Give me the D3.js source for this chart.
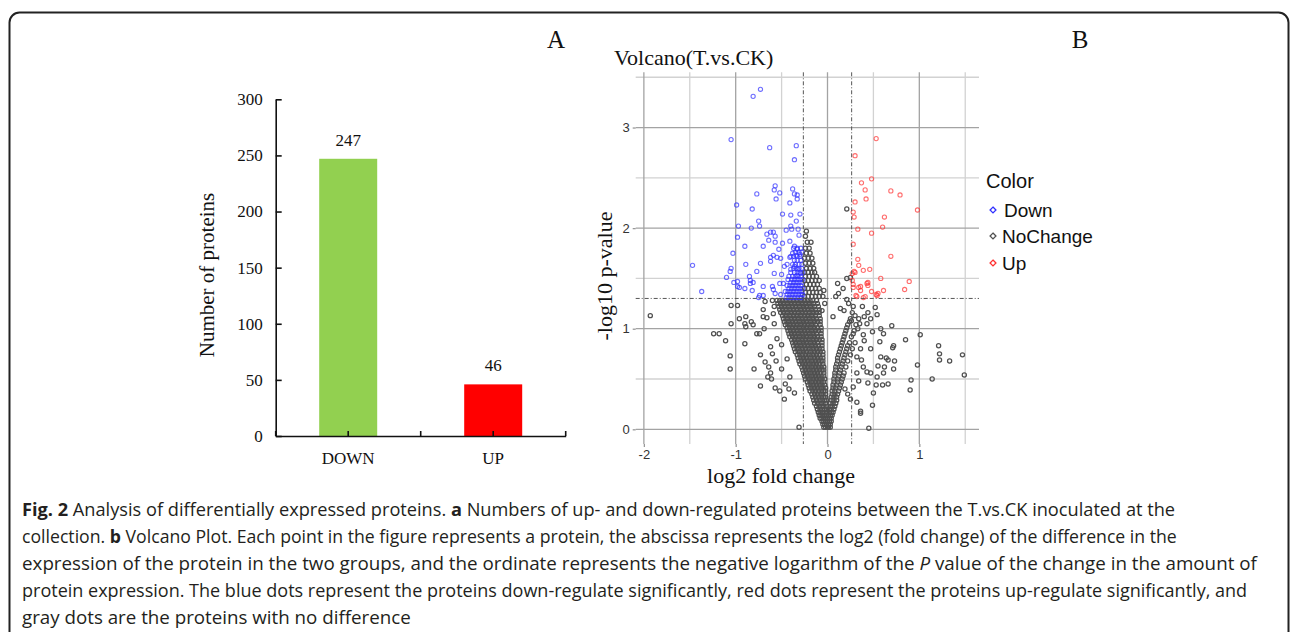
<!DOCTYPE html>
<html lang="en">
<head>
    <meta charset="UTF-8">
    <title>Fig. 2 Analysis of differentially expressed proteins</title>
    <script src="https://d3js.org/d3.v7.min.js"></script>
    <style>
        body { margin: 0; background: #fff; }
        svg { display: block; }
        .serif { font-family: "Liberation Serif", "Times New Roman", serif; fill: #111; }
        .sans { font-family: "Liberation Sans", Arial, sans-serif; }
        .caption { font-family: "Open Sans", "Noto Sans", sans-serif; fill: #231f20; }
    </style>
</head>
<body>
    <svg width="1290" height="632"></svg>
    <script>
        // ---- panel A : bar chart ----
        const barCategories = ["DOWN", "UP"];
        const barValues = [247, 46];
        const barColors = ["#92D050", "#FF0000"];
        const barTicks = [0, 50, 100, 150, 200, 250, 300];

        // ---- panel B : volcano plot, values in hundredths [log2FC, -log10 p] ----
        const volcanoXTicks = [-2, -1, 0, 1];
        const volcanoYTicks = [0, 1, 2, 3];
        const fcCut = 0.263;   // log2(1.2)
        const pCut = 1.301;    // -log10(0.05)

        const downPoints = [
            [-73,338],[-81,331],[-105,288],[-63,280],[-34,282],[-36,268],[-57,242],[-58,238],[-77,234],[-52,235],
            [-38,239],[-36,234],[-33,233],[-33,229],[-56,229],[-41,225],[-99,223],[-82,219],[-49,214],[-30,214],
            [-40,213],[-34,207],[-75,207],[-74,202],[-97,202],[-40,202],[-83,200],[-39,199],[-32,199],[-62,196],
            [-59,196],[-66,194],[-45,198],[-98,191],[-57,192],[-31,193],[-64,188],[-41,187],[-57,186],[-49,185],
            [-90,182],[-70,182],[-103,175],[-53,179],[-36,182],[-33,179],[-59,173],[-55,171],[-62,171],[-51,170],
            [-38,175],[-41,171],[-34,173],[-30,174],[-73,165],[-62,167],[-89,164],[-105,160],[-106,157],[-147,163],
            [-110,151],[-77,157],[-47,162],[-40,159],[-36,162],[-32,159],[-58,155],[-50,154],[-42,152],[-33,153],
            [-29,155],[-85,152],[-102,146],[-98,147],[-98,142],[-96,141],[-90,140],[-84,145],[-84,148],[-81,146],
            [-82,138],[-137,137],[-70,142],[-60,142],[-59,139],[-74,133],[-70,133],[-75,131],[-57,135],[-51,134],
            [-52,145],[-48,145]
        ];
        // dense blue group just above the p cut-off: [y, [x, x, ...]]
        const downCluster = [
            [131,[-45,-42,-39,-36,-33,-30,-28]],
            [134,[-44,-41,-38,-35,-32,-29,-27]],
            [137,[-46,-43,-40,-37,-34,-31,-28]],
            [140,[-42,-39,-36,-33,-30,-27]],
            [143,[-44,-41,-38,-35,-32,-29]],
            [146,[-40,-37,-34,-31,-28]],
            [149,[-43,-39,-36,-33,-30,-27]],
            [152,[-38,-35,-32,-29]],
            [156,[-40,-36,-33,-30,-27]],
            [160,[-37,-34,-31,-28]],
            [164,[-44,-38,-35,-31,-28]],
            [168,[-36,-33,-29]],
            [172,[-40,-37,-33,-30]],
            [176,[-35,-31,-28]],
            [180,[-37,-33,-29]]
        ];
        const upPoints = [
            [53,289],[30,272],[37,245],[48,249],[41,238],[69,237],[79,233],[42,229],[30,226],[98,218],
            [28,216],[29,211],[62,211],[60,201],[33,199],[48,195],[28,184],[69,172],[33,169],[34,163],
            [29,157],[30,156],[39,158],[46,159],[58,150],[27,148],[44,146],[44,143],[28,144],[89,147],
            [34,141],[36,138],[48,137],[61,138],[84,139],[32,132],[39,131],[41,132],[53,134],[55,135],
            [28,141],[36,142],[31,133],[43,145],[27,155],[54,133]
        ];
        const grayPoints = [
            [-193,113],[-124,95],[-118,95],[-111,88],[-106,73],[-106,60],[-105,105],[-105,123],[-98,123],[-96,110],
            [-90,105],[-89,112],[-89,102],[-90,85],[-83,107],[-81,104],[-80,60],[-77,95],[-74,95],[-73,43],
            [-73,74],[-70,119],[-70,112],[-69,100],[-68,127],[-66,111],[-68,67],[-65,52],[-62,56],[-57,41],
            [-52,38],[-61,50],[-64,62],[-60,75],[-31,2],[-55,90],[-58,105],[-62,82],[-56,68],[-59,115],
            [-47,30],[-58,122],[-60,128],[-50,60],[-46,45],[-42,40],[-44,70],[-50,84],[-41,52],[-36,36],
            [21,219],[11,145],[21,150],[25,151],[9,132],[-4,138],[21,129],[30,113],[44,116],[52,121],
            [54,114],[35,105],[43,105],[58,100],[70,103],[61,95],[49,97],[39,94],[101,94],[85,89],
            [57,87],[72,83],[71,81],[47,80],[121,83],[122,75],[122,69],[133,68],[147,74],[149,54],
            [114,50],[91,49],[90,39],[98,64],[58,72],[64,71],[66,69],[73,68],[62,62],[72,60],
            [61,56],[55,63],[60,44],[66,45],[53,44],[50,36],[49,24],[36,18],[36,16],[32,27],
            [45,1],[54,52],[47,56],[44,46],[43,57],[39,62],[37,69],[32,72],[32,56],[34,48],
            [28,42],[12,135],[17,140],[23,125],[18,118],[40,112],[47,110],[26,108],[33,100],[14,120],
            [6,112],[-6,118],[-3,125],[30,86],[36,80],[28,95],[40,88],[22,35],[25,30],[19,40]
        ];
        // dense grey "V": [y, [x, x, ...]]
        const grayCore = [
            [2,[-4,-2,0,1,3]],
            [5,[-5,-3,-1,1,3]],
            [8,[-6,-4,-2,0,2,4]],
            [11,[-8,-6,-4,-2,0,2,4]],
            [14,[-9,-7,-5,-3,-1,1,3,5]],
            [17,[-10,-8,-6,-4,-1,2,4,6]],
            [20,[-11,-8,-5,-3,-1,2,4,7]],
            [23,[-12,-9,-6,-4,-1,3,5,8]],
            [26,[-14,-11,-8,-5,-2,3,6,9]],
            [29,[-15,-12,-9,-6,-3,-1,4,7,10]],
            [32,[-16,-13,-10,-7,-4,-2,4,7,10]],
            [35,[-17,-14,-11,-8,-5,-2,5,8,11]],
            [38,[-19,-16,-13,-10,-7,-4,-2,5,8,12]],
            [41,[-20,-17,-14,-11,-8,-5,-2,6,9,13]],
            [44,[-21,-18,-15,-12,-9,-6,-3,6,10,14]],
            [47,[-22,-19,-16,-13,-10,-7,-4,7,11,15]],
            [50,[-24,-21,-18,-15,-12,-9,-6,-3,7,11,16]],
            [53,[-25,-22,-19,-16,-13,-10,-7,-4,8,12,17]],
            [56,[-26,-23,-20,-17,-14,-11,-8,-4,8,13,18]],
            [59,[-27,-24,-21,-18,-15,-12,-9,-6,-4,9,14]],
            [62,[-28,-25,-22,-19,-16,-13,-10,-7,-4,9,15,20]],
            [65,[-30,-27,-24,-21,-18,-15,-12,-9,-5,10,16]],
            [68,[-31,-28,-25,-22,-19,-16,-13,-10,-7,-5,11,17,22]],
            [71,[-32,-29,-26,-23,-20,-17,-14,-11,-8,-5,11,18]],
            [74,[-33,-30,-27,-24,-21,-18,-15,-12,-9,-5,12,19,25]],
            [77,[-35,-32,-29,-26,-23,-20,-17,-14,-11,-8,-5,13,20]],
            [80,[-36,-33,-30,-27,-24,-21,-18,-15,-12,-9,-6,14,21,27]],
            [83,[-37,-34,-31,-28,-25,-22,-19,-16,-13,-10,-6,15,22]],
            [86,[-38,-35,-32,-29,-26,-23,-20,-17,-14,-11,-6,16,24]],
            [89,[-39,-36,-33,-30,-27,-24,-21,-18,-15,-12,-9,-6,17]],
            [92,[-41,-38,-35,-32,-29,-26,-23,-20,-17,-14,-11,-7,18,26]],
            [95,[-42,-39,-36,-33,-30,-27,-24,-21,-18,-15,-12,-7,19]],
            [98,[-43,-40,-37,-34,-31,-28,-25,-22,-19,-16,-13,-10,-7,20,29]],
            [101,[-44,-41,-38,-35,-32,-29,-26,-23,-20,-17,-14,-11,-7,21]],
            [104,[-46,-43,-40,-37,-34,-31,-28,-25,-22,-19,-16,-13,-8,22,31]],
            [107,[-47,-44,-41,-38,-35,-32,-29,-26,-23,-20,-17,-14,-11,-8,24]],
            [110,[-48,-45,-42,-39,-36,-33,-30,-27,-24,-21,-18,-15,-12,-8,25,34]],
            [113,[-49,-46,-43,-40,-37,-34,-31,-28,-25,-22,-19,-16,-13,-9]],
            [116,[-51,-48,-45,-42,-39,-36,-33,-30,-27,-24,-21,-18,-15,-12,-9,27]],
            [119,[-52,-49,-46,-43,-40,-37,-34,-31,-28,-25,-22,-19,-16,-13,-9]],
            [122,[-53,-50,-47,-44,-41,-38,-35,-32,-29,-26,-23,-20,-17,-14,-10,28,38]],
            [125,[-54,-51,-48,-45,-42,-39,-36,-33,-30,-27,-24,-21,-18,-15,-11]],
            [128,[-55,-52,-49,-46,-43,-40,-37,-34,-31,-28,-25,-22,-19,-16,-12]],
            // grey tail above the p cut-off, inside the fold-change band
            [132,[-25,-21,-17,-13,-9,-5]],
            [136,[-24,-20,-16,-12,-8]],
            [140,[-25,-21,-17,-13,-9]],
            [144,[-23,-19,-15,-11]],
            [148,[-25,-21,-17,-13,-9]],
            [152,[-24,-20,-16,-12]],
            [156,[-25,-21,-17,-14]],
            [160,[-23,-19,-15]],
            [165,[-24,-20,-16]],
            [170,[-25,-21,-17]],
            [175,[-23,-19]],
            [180,[-24,-20]],
            [186,[-22,-18]],
            [192,[-24]],
            [197,[-23]]
        ];

        const legendItems = ["Down", "NoChange", "Up"];
        const pointColors = { Down: "#3030ff", NoChange: "#505050", Up: "#ff3030" };

        const captionLines = [
            [["Fig. 2", "b"], [" Analysis of differentially expressed proteins. ", ""], ["a", "b"], [" Numbers of up- and down-regulated proteins between the T.vs.CK inoculated at the", ""]],
            [["collection. ", ""], ["b", "b"], [" Volcano Plot. Each point in the figure represents a protein, the abscissa represents the log2 (fold change) of the difference in the", ""]],
            [["expression of the protein in the two groups, and the ordinate represents the negative logarithm of the ", ""], ["P", "i"], [" value of the change in the amount of", ""]],
            [["protein expression. The blue dots represent the proteins down-regulate significantly, red dots represent the proteins up-regulate significantly, and", ""]],
            [["gray dots are the proteins with no difference", ""]]
        ];
        const captionWidths = [1154, 1156, 1236, 1226, 389];

        const svg = d3.select("svg");

        // frame
        svg.append("rect")
            .attr("x", 9.5).attr("y", 12.5)
            .attr("width", 1279).attr("height", 700)
            .attr("rx", 10)
            .attr("fill", "none")
            .attr("stroke", "#222")
            .attr("stroke-width", 2);

        // ================= A =================
        const xBar = d3.scaleBand().domain(barCategories).range([275.7, 565.7])
            .paddingInner(0.6).paddingOuter(0.3);
        const yBar = d3.scaleLinear().domain([0, 300]).range([436, 99.3]);

        const gA = svg.append("g");

        gA.selectAll("rect.bar")
            .data(barValues)
            .enter().append("rect")
            .attr("class", "bar")
            .attr("x", (d, i) => xBar(barCategories[i]))
            .attr("y", d => yBar(d))
            .attr("width", xBar.bandwidth())
            .attr("height", d => yBar(0) - yBar(d))
            .attr("fill", (d, i) => barColors[i]);

        gA.selectAll("text.val")
            .data(barValues)
            .enter().append("text")
            .attr("class", "serif")
            .attr("x", (d, i) => xBar(barCategories[i]) + xBar.bandwidth() / 2)
            .attr("y", d => yBar(d) - 13)
            .attr("text-anchor", "middle")
            .style("font-size", "17px")
            .text(d => d);

        const yAxisA = gA.append("g")
            .attr("transform", "translate(275.7,0)")
            .call(d3.axisLeft(yBar).tickValues(barTicks).tickSizeInner(-6).tickSizeOuter(0).tickPadding(13));
        yAxisA.selectAll("text").attr("class", "serif").style("font-size", "17px").attr("fill", "#111");
        yAxisA.selectAll("line, path").attr("stroke", "#111").attr("stroke-width", 1.6);

        const xAxisA = gA.append("g")
            .attr("transform", "translate(0,436)")
            .call(d3.axisBottom(xBar).tickSize(0).tickPadding(16));
        xAxisA.select(".domain").attr("stroke", "#111").attr("stroke-width", 1.6);
        xAxisA.selectAll("text").attr("class", "serif").style("font-size", "17px").attr("fill", "#111");

        const step = xBar.step();
        const barTickPos = [xBar.range()[0], ...barCategories.map(c => xBar(c) + xBar.bandwidth() / 2),
            xBar(barCategories[0]) + xBar.bandwidth() / 2 + step / 2, xBar.range()[1]];
        gA.selectAll("line.xt")
            .data(barTickPos)
            .enter().append("line")
            .attr("x1", d => d).attr("x2", d => d)
            .attr("y1", 436).attr("y2", 431)
            .attr("stroke", "#111").attr("stroke-width", 1.6);

        gA.append("text")
            .attr("class", "serif")
            .attr("transform", "translate(214,275) rotate(-90)")
            .attr("text-anchor", "middle")
            .style("font-size", "21px")
            .text("Number of proteins");

        svg.append("text").attr("class", "serif")
            .attr("x", 556).attr("y", 48).attr("text-anchor", "middle")
            .style("font-size", "25px").text("A");
        svg.append("text").attr("class", "serif")
            .attr("x", 1080).attr("y", 48).attr("text-anchor", "middle")
            .style("font-size", "25px").text("B");

        // ================= B =================
        const xV = d3.scaleLinear().domain([-2.089, 1.650]).range([635.7, 979]);
        const yV = d3.scaleLinear().domain([-0.146, 3.549]).range([444, 72.3]);
        const gB = svg.append("g");

        const minorX = [-1.5, -0.5, 0.5, 1.5];
        const minorY = [0.5, 1.5, 2.5, 3.5];

        gB.selectAll("line.minx").data(minorX).enter().append("line")
            .attr("x1", d => xV(d)).attr("x2", d => xV(d))
            .attr("y1", yV.range()[1]).attr("y2", yV.range()[0])
            .attr("stroke", "#d2d2d2").attr("stroke-width", 1.3);
        gB.selectAll("line.miny").data(minorY).enter().append("line")
            .attr("x1", xV.range()[0]).attr("x2", xV.range()[1])
            .attr("y1", d => yV(d)).attr("y2", d => yV(d))
            .attr("stroke", "#d2d2d2").attr("stroke-width", 1.3);
        gB.selectAll("line.majx").data(volcanoXTicks).enter().append("line")
            .attr("x1", d => xV(d)).attr("x2", d => xV(d))
            .attr("y1", yV.range()[1]).attr("y2", yV.range()[0])
            .attr("stroke", "#a3a3a3").attr("stroke-width", 1.3);
        gB.selectAll("line.majy").data(volcanoYTicks).enter().append("line")
            .attr("x1", xV.range()[0]).attr("x2", xV.range()[1])
            .attr("y1", d => yV(d)).attr("y2", d => yV(d))
            .attr("stroke", "#a3a3a3").attr("stroke-width", 1.3);

        const plainNum = d => String(d);
        const xAxisB = gB.append("g")
            .attr("transform", `translate(0,${yV.range()[0]})`)
            .call(d3.axisBottom(xV).tickValues(volcanoXTicks).tickFormat(plainNum)
                .tickSize(3).tickSizeOuter(0).tickPadding(3));
        const yAxisB = gB.append("g")
            .attr("transform", `translate(${xV.range()[0]},0)`)
            .call(d3.axisLeft(yV).tickValues(volcanoYTicks).tickFormat(plainNum)
                .tickSize(3).tickSizeOuter(0).tickPadding(3));
        [xAxisB, yAxisB].forEach(a => {
            a.select(".domain").remove();
            a.selectAll("line").attr("stroke", "#999").attr("stroke-width", 1.3);
            a.selectAll("text").attr("class", "sans").style("font-size", "13px").attr("fill", "#333");
        });

        // points
        const toPts = (list) => list.map(p => [p[0] / 100, p[1] / 100]);
        const fromRows = (rows) => rows.flatMap(r => r[1].map(x => [x / 100, r[0] / 100]));
        const allPoints = [
            ...toPts(grayPoints).map(p => ({ p, g: "NoChange" })),
            ...fromRows(grayCore).map(p => ({ p, g: "NoChange" })),
            ...toPts(downPoints).map(p => ({ p, g: "Down" })),
            ...fromRows(downCluster).map(p => ({ p, g: "Down" })),
            ...toPts(upPoints).map(p => ({ p, g: "Up" }))
        ];

        gB.append("g").selectAll("circle")
            .data(allPoints)
            .enter().append("circle")
            .attr("cx", d => xV(d.p[0]))
            .attr("cy", d => yV(d.p[1]))
            .attr("r", 2.1)
            .attr("fill", "none")
            .attr("stroke", d => pointColors[d.g])
            .attr("stroke-opacity", d => d.g === "NoChange" ? 1 : 0.7)
            .attr("stroke-width", d => d.g === "NoChange" ? 1.25 : 1.1);

        // thresholds
        gB.selectAll("line.fc").data([-fcCut, fcCut]).enter().append("line")
            .attr("x1", d => xV(d)).attr("x2", d => xV(d))
            .attr("y1", yV.range()[1]).attr("y2", yV.range()[0])
            .attr("stroke", "#555").attr("stroke-width", 1)
            .attr("stroke-dasharray", "4,2,1,2");
        gB.append("line")
            .attr("x1", xV.range()[0]).attr("x2", xV.range()[1])
            .attr("y1", yV(pCut)).attr("y2", yV(pCut))
            .attr("stroke", "#555").attr("stroke-width", 1)
            .attr("stroke-dasharray", "4,2,1,2");

        gB.append("text").attr("class", "serif")
            .attr("x", 614).attr("y", 65)
            .style("font-size", "22px")
            .text("Volcano(T.vs.CK)");
        gB.append("text").attr("class", "serif")
            .attr("x", 781).attr("y", 483)
            .attr("text-anchor", "middle")
            .style("font-size", "22px")
            .text("log2 fold change");
        gB.append("text").attr("class", "serif")
            .attr("transform", "translate(612,276) rotate(-90)")
            .attr("text-anchor", "middle")
            .style("font-size", "22px")
            .text("-log10 p-value");

        // legend
        const lg = gB.append("g").attr("class", "sans");
        lg.append("text").attr("x", 986).attr("y", 188)
            .style("font-size", "20px").attr("fill", "#111").text("Color");
        const lgY = [210, 236, 263];
        lg.selectAll("path.key").data(legendItems).enter().append("path")
            .attr("d", d3.symbol(d3.symbolDiamond2, 22))
            .attr("transform", (d, i) => `translate(993,${lgY[i]})`)
            .attr("fill", "none")
            .attr("stroke", d => pointColors[d])
            .attr("stroke-width", 1.3);
        lg.selectAll("text.item").data(legendItems).enter().append("text")
            .attr("x", (d, i) => i === 0 ? 1004 : 1002)
            .attr("y", (d, i) => lgY[i] + 7)
            .style("font-size", "19px").attr("fill", "#111")
            .text(d => d);

        // ================= caption =================
        const cap = svg.append("g");
        captionLines.forEach((parts, i) => {
            const t = cap.append("text")
                .attr("class", "caption")
                .attr("x", 22)
                .attr("y", 516 + i * 27)
                .style("font-size", "17px");
            parts.forEach(([s, f]) => {
                t.append("tspan")
                    .attr("font-weight", f === "b" ? "bold" : null)
                    .attr("font-style", f === "i" ? "italic" : null)
                    .text(s);
            });
            const w = t.node().getComputedTextLength();
            t.style("font-size", (17 * captionWidths[i] / w) + "px");
        });
    </script>
</body>
</html>
